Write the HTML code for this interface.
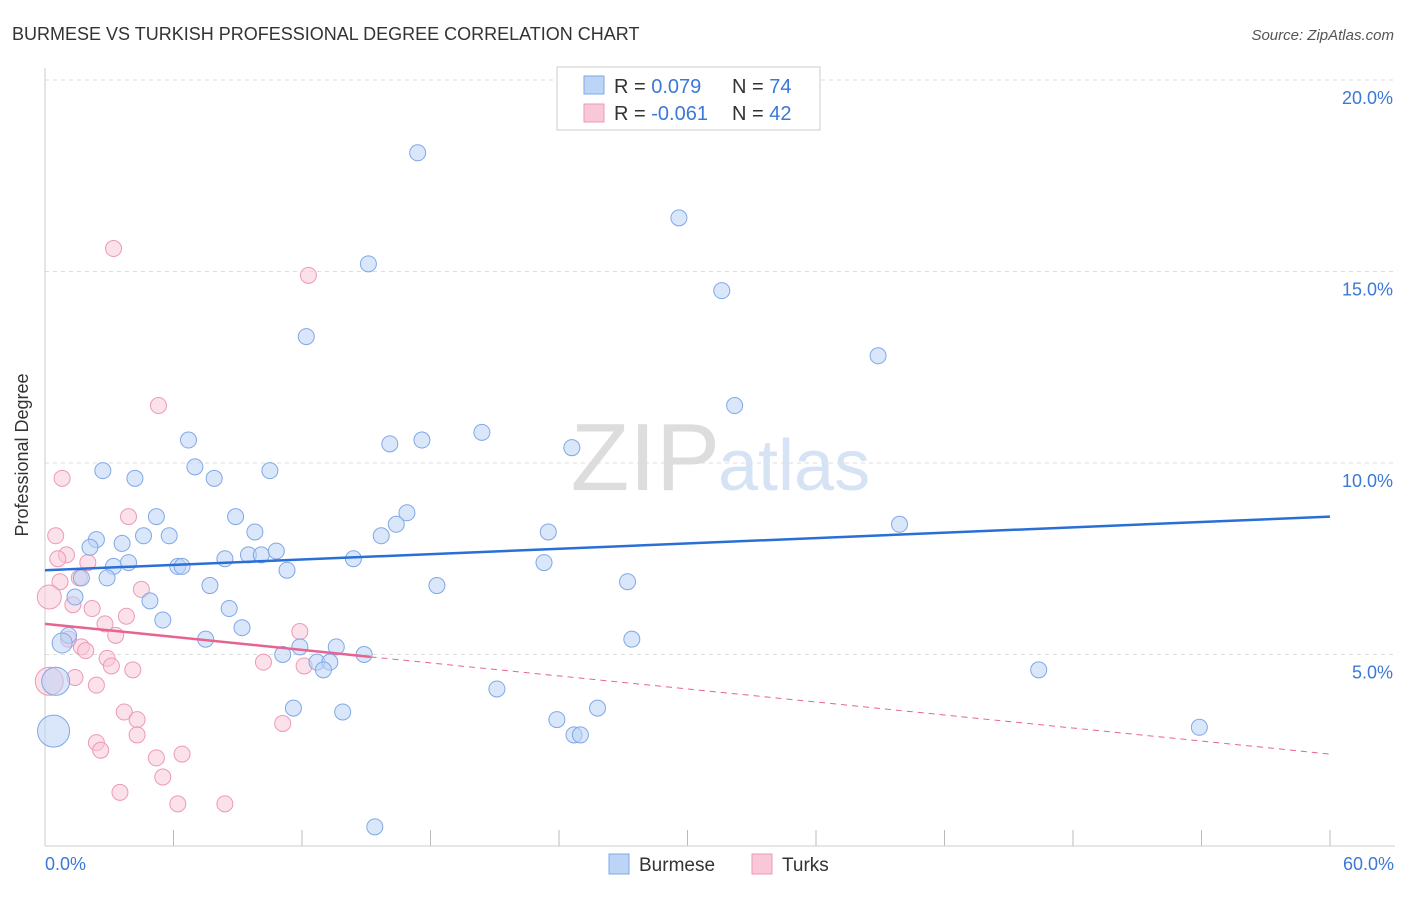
<!DOCTYPE html>
<html><head><meta charset="utf-8"><style>
body{margin:0;background:#fff;font-family:"Liberation Sans",sans-serif}
svg text{font-family:"Liberation Sans",sans-serif}
</style></head><body>
<svg width="1406" height="892" xmlns="http://www.w3.org/2000/svg">
<text x="12" y="40" font-size="18" fill="#333">BURMESE VS TURKISH PROFESSIONAL DEGREE CORRELATION CHART</text>
<text x="1394" y="40" font-size="15" fill="#555" font-style="italic" text-anchor="end">Source: ZipAtlas.com</text>
<g id="grid"></g>
<line x1="45" y1="68" x2="45" y2="846" stroke="#ccc"/>
<line x1="45" y1="846" x2="1395" y2="846" stroke="#ccc"/>
<text x="720" y="490" font-size="96" fill="#ddd" text-anchor="end" font-family="Liberation Serif">ZIP</text>
<text x="718" y="490" font-size="72" fill="#d5e3f5">atlas</text>
<text x="28" y="455" font-size="18" fill="#333" text-anchor="middle" transform="rotate(-90 28 455)">Professional Degree</text>
<text x="45" y="870" font-size="18" fill="#3b78d8">0.0%</text>
<text x="1394" y="870" font-size="18" fill="#3b78d8" text-anchor="end">60.0%</text>
<g id="pts"></g>
<g id="lines"></g>
<rect x="557" y="67" width="263" height="63" fill="#fff" stroke="#ccc"/>
<rect x="584" y="76" width="20" height="18" fill="#bcd4f5" stroke="#7fa8e6"/>
<rect x="584" y="104" width="20" height="18" fill="#f8c8d8" stroke="#ec9ab6"/>
<text x="614" y="93" font-size="20" fill="#333">R = <tspan fill="#3b78d8"> 0.079</tspan><tspan x="732">N = </tspan><tspan fill="#3b78d8">74</tspan></text>
<text x="614" y="120" font-size="20" fill="#333">R = <tspan fill="#3b78d8">-0.061</tspan><tspan x="732">N = </tspan><tspan fill="#3b78d8">42</tspan></text>
<rect x="609" y="854" width="20" height="20" fill="#bcd4f5" stroke="#7fa8e6"/>
<text x="639" y="871" font-size="19" fill="#333">Burmese</text>
<rect x="752" y="854" width="20" height="20" fill="#f8c8d8" stroke="#ec9ab6"/>
<text x="782" y="871" font-size="19" fill="#333">Turks</text>
</svg>
<script>
const yTicks=[5,10,15,20];
const xTicks=[0,6,12,18,24,30,36,42,48,54,60];
const burmeseX=[17.4,29.6,31.6,15.1,12.2,38.9,32.2,20.4,17.6,16.1,24.6,6.7,2.7,4.2,7.0,7.9,10.5,16.9,16.4,15.7,23.5,39.9,5.2,8.9,5.8,9.8,2.4,2.1,3.6,4.6,3.9,3.2,9.5,10.1,10.8,8.4,6.2,6.4,11.3,14.4,23.3,2.9,1.7,7.7,18.3,27.2,1.4,4.9,8.6,5.5,9.2,7.5,1.1,0.8,27.4,11.9,13.6,14.9,11.1,12.7,13.3,13.0,46.4,0.5,21.1,11.6,13.9,25.8,23.9,53.9,24.7,25.0,0.4,15.4];
const burmeseY=[18.1,16.4,14.5,15.2,13.3,12.8,11.5,10.8,10.6,10.5,10.4,10.6,9.8,9.6,9.9,9.6,9.8,8.7,8.4,8.1,8.2,8.4,8.6,8.6,8.1,8.2,8.0,7.8,7.9,8.1,7.4,7.3,7.6,7.6,7.7,7.5,7.3,7.3,7.2,7.5,7.4,7.0,7.0,6.8,6.8,6.9,6.5,6.4,6.2,5.9,5.7,5.4,5.5,5.3,5.4,5.2,5.2,5.0,5.0,4.8,4.8,4.6,4.6,4.3,4.1,3.6,3.5,3.6,3.3,3.1,2.9,2.9,3.0,0.5];
const burmeseS=[8,8,8,8,8,8,8,8,8,8,8,8,8,8,8,8,8,8,8,8,8,8,8,8,8,8,8,8,8,8,8,8,8,8,8,8,8,8,8,8,8,8,8,8,8,8,8,8,8,8,8,8,8,10,8,8,8,8,8,8,8,8,8,14,8,8,8,8,8,8,8,8,16,8];
const turksX=[3.2,12.3,5.3,0.8,0.5,3.9,1.0,0.6,2.0,0.7,1.6,4.5,0.2,1.3,2.2,3.8,2.8,11.9,3.3,1.1,1.7,1.9,2.9,3.1,4.1,10.2,12.1,1.4,2.4,0.2,3.7,4.3,4.3,2.4,2.6,11.1,6.4,5.2,5.5,3.5,6.2,8.4];
const turksY=[15.6,14.9,11.5,9.6,8.1,8.6,7.6,7.5,7.4,6.9,7.0,6.7,6.5,6.3,6.2,6.0,5.8,5.6,5.5,5.4,5.2,5.1,4.9,4.7,4.6,4.8,4.7,4.4,4.2,4.3,3.5,3.3,2.9,2.7,2.5,3.2,2.4,2.3,1.8,1.4,1.1,1.1];
const turksS=[8,8,8,8,8,8,8,8,8,8,8,8,12,8,8,8,8,8,8,8,8,8,8,8,8,8,8,8,8,14,8,8,8,8,8,8,8,8,8,8,8,8];
const burmeseTrend=[7.2,8.6];
const turksTrend=[5.8,2.4];
const turksSolidEnd=15.2;
const NS='http://www.w3.org/2000/svg';
const X=v=>45+v*(1330-45)/60;
const Y=v=>846-v*(846-80)/20;
const grid=document.getElementById('grid');
for(const t of yTicks){
 const l=document.createElementNS(NS,'line');
 l.setAttribute('x1',45);l.setAttribute('x2',1395);l.setAttribute('y1',Y(t));l.setAttribute('y2',Y(t));
 l.setAttribute('stroke','#ddd');l.setAttribute('stroke-dasharray','4,4');
 
 
 grid.appendChild(l);
 const tx=document.createElementNS(NS,'text');
 tx.setAttribute('x',1393);tx.setAttribute('y',Y(t)+24);tx.setAttribute('text-anchor','end');
 tx.setAttribute('font-size','18');tx.setAttribute('fill','#3b78d8');tx.textContent=t.toFixed(1)+'%';
 
 
 grid.appendChild(tx);
}
for(const t of xTicks){
 const l=document.createElementNS(NS,'line');
 l.setAttribute('x1',X(t));l.setAttribute('x2',X(t));l.setAttribute('y1',830);l.setAttribute('y2',846);
 l.setAttribute('stroke','#bbb');
 
 
 grid.appendChild(l);
}
const pts=document.getElementById('pts');
function dots(xs,ys,ss,fill,stroke,name){
 for(let i=0;i<xs.length;i++){
  const c=document.createElementNS(NS,'circle');
  c.setAttribute('cx',X(xs[i]));c.setAttribute('cy',Y(ys[i]));c.setAttribute('r',ss[i]);
  c.setAttribute('fill',fill);c.setAttribute('stroke',stroke);c.setAttribute('fill-opacity','0.55');
  
  
  pts.appendChild(c);
 }
}
dots(turksX,turksY,turksS,'#f8c8d8','#ec9ab6','turks-point');
dots(burmeseX,burmeseY,burmeseS,'#bcd4f5','#7fa8e6','burmese-point');
const lines=document.getElementById('lines');
function ln(x1,y1,x2,y2,col,w,dash,name){
 const l=document.createElementNS(NS,'line');
 l.setAttribute('x1',X(x1));l.setAttribute('y1',Y(y1));l.setAttribute('x2',X(x2));l.setAttribute('y2',Y(y2));
 l.setAttribute('stroke',col);l.setAttribute('stroke-width',w);if(dash)l.setAttribute('stroke-dasharray',dash);
 
 
 lines.appendChild(l);
}
ln(0,burmeseTrend[0],60,burmeseTrend[1],'#2a6fd6',2.5,null,'burmese-trendline');
const tAt=x=>turksTrend[0]+(turksTrend[1]-turksTrend[0])*x/60;
ln(0,turksTrend[0],turksSolidEnd,tAt(turksSolidEnd),'#e8638f',2.5,null,'turks-trendline');
ln(turksSolidEnd,tAt(turksSolidEnd),60,turksTrend[1],'#e8638f',1,'6,5','turks-trendline-extension');
</script>
</body></html>
